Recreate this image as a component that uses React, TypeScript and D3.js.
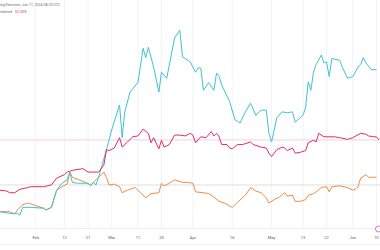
import React from "react";
import * as d3 from "d3";

const W = 380;
const H = 250;

const cyanDates = ["2024-01-18","2024-01-22","2024-01-25","2024-01-26","2024-01-27","2024-01-30","2024-02-04","2024-02-05","2024-02-07","2024-02-09","2024-02-11","2024-02-13","2024-02-14","2024-02-15","2024-02-17","2024-02-21","2024-02-22","2024-02-23","2024-02-24","2024-02-25","2024-02-28","2024-03-01","2024-03-04","2024-03-05","2024-03-06","2024-03-08","2024-03-11","2024-03-13","2024-03-14","2024-03-15","2024-03-17","2024-03-19","2024-03-20","2024-03-22","2024-03-25","2024-03-27","2024-03-28","2024-03-31","2024-04-02","2024-04-03","2024-04-04","2024-04-05","2024-04-07","2024-04-09","2024-04-10","2024-04-11","2024-04-12","2024-04-15","2024-04-17","2024-04-19","2024-04-21","2024-04-23","2024-04-25","2024-04-27","2024-04-29","2024-04-30","2024-05-01","2024-05-03","2024-05-05","2024-05-07","2024-05-09","2024-05-10","2024-05-13","2024-05-14","2024-05-15","2024-05-16","2024-05-17","2024-05-18","2024-05-20","2024-05-21","2024-05-22","2024-05-23","2024-05-24","2024-05-27","2024-05-28","2024-05-30","2024-06-01","2024-06-03","2024-06-04","2024-06-05","2024-06-06","2024-06-08","2024-06-10"];
const cyanValues = [-31,-33,-33,-35,-26,-26,-27,-29,-26,-6,2,6,15,3,2,2,-1,3,0,9,41,64,93,55,85,108,119,159,148,160,137,108,131,124,171,180,149,143,131,136,136,110,119,110,130,126,116,97,76,72,85,95,81,87,87,60,50,78,85,84,85,73,81,90,120,110,131,140,151,142,143,126,147,145,137,124,126,137,140,148,142,134,134];

const redDates = ["2024-01-18","2024-01-21","2024-01-22","2024-01-24","2024-01-26","2024-01-29","2024-01-30","2024-02-04","2024-02-07","2024-02-09","2024-02-12","2024-02-13","2024-02-15","2024-02-19","2024-02-21","2024-02-25","2024-02-27","2024-02-28","2024-02-29","2024-03-02","2024-03-04","2024-03-05","2024-03-07","2024-03-09","2024-03-11","2024-03-13","2024-03-15","2024-03-16","2024-03-17","2024-03-19","2024-03-20","2024-03-21","2024-03-23","2024-03-25","2024-03-27","2024-03-29","2024-03-31","2024-04-01","2024-04-02","2024-04-04","2024-04-06","2024-04-08","2024-04-09","2024-04-10","2024-04-11","2024-04-12","2024-04-14","2024-04-15","2024-04-16","2024-04-18","2024-04-20","2024-04-23","2024-04-24","2024-04-27","2024-04-29","2024-04-30","2024-05-01","2024-05-03","2024-05-05","2024-05-06","2024-05-07","2024-05-09","2024-05-10","2024-05-12","2024-05-14","2024-05-15","2024-05-17","2024-05-18","2024-05-19","2024-05-21","2024-05-23","2024-05-25","2024-05-27","2024-05-30","2024-06-01","2024-06-04","2024-06-06","2024-06-07","2024-06-09","2024-06-10","2024-06-11"];
const redValues = [-6,-7,-9,-9,-5,-3,-2,-2,0,8,12,15,17,19,15,15,23,41,40,43,55,44,50,56,57,65,60,49,55,42,52,44,47,58,58,57,60,58,49,56,55,62,57,60,56,47,47,43,42,47,47,50,47,44,43,37,33,41,44,43,40,43,37,38,40,49,52,50,60,56,56,56,55,53,55,60,59,57,56,56,52.33];

const orangeDates = ["2024-01-18","2024-01-22","2024-01-24","2024-01-25","2024-01-27","2024-01-29","2024-01-31","2024-02-04","2024-02-05","2024-02-07","2024-02-09","2024-02-11","2024-02-13","2024-02-14","2024-02-15","2024-02-20","2024-02-22","2024-02-24","2024-02-25","2024-02-27","2024-02-28","2024-02-29","2024-03-02","2024-03-04","2024-03-05","2024-03-07","2024-03-10","2024-03-12","2024-03-14","2024-03-16","2024-03-19","2024-03-20","2024-03-21","2024-03-23","2024-03-25","2024-03-28","2024-03-30","2024-04-01","2024-04-02","2024-04-05","2024-04-07","2024-04-09","2024-04-11","2024-04-13","2024-04-16","2024-04-18","2024-04-21","2024-04-23","2024-04-25","2024-04-27","2024-04-29","2024-04-30","2024-05-02","2024-05-04","2024-05-06","2024-05-07","2024-05-09","2024-05-10","2024-05-12","2024-05-14","2024-05-15","2024-05-17","2024-05-18","2024-05-20","2024-05-22","2024-05-23","2024-05-24","2024-05-27","2024-05-30","2024-06-01","2024-06-02","2024-06-03","2024-06-04","2024-06-06","2024-06-07","2024-06-09","2024-06-10"];
const orangeValues = [-31,-31,-34,-29,-23,-21,-23,-27,-29,-26,-6,-2,1,15,9,3,0,6,9,15,9,0,1,-2,-9,-6,-3,-9,-15,-10,-9,2,-1,2,6,3,3,2,-8,-9,-10,-14,-19,-21,-26,-20,-12,-3,-7,-9,-15,-21,-17,-14,-9,-13,-12,-19,-19,-17,-12,-10,-8,-3,-2,-8,-2,-1,-3,-6,-5,-2,8,12,9,9,9];

const tickDates = ["2024-02-01","2024-02-12","2024-02-21","2024-03-01","2024-03-11","2024-03-20","2024-04-01","2024-04-16","2024-05-01","2024-05-13","2024-05-22","2024-06-01","2024-06-10"];
const tickLabels = ["Feb","12","21","Mar","11","20","Apr","16","May","13","22","Jun","10"];

const domainDates = ["2024-01-18","2024-06-11"];
const yDomain = [-50, 215];
const lastCombined = 52.33;
const baseline = 0;

const parse = d3.timeParse("%Y-%m-%d");

export default function App() {
  const plotBottom = 228;
  const x = d3
    .scaleTime()
    .domain(domainDates.map((d) => parse(d) as Date))
    .range([-1, 379]);
  const y = d3.scaleLinear().domain(yDomain).range([plotBottom, 0]);

  const line = d3
    .line<[Date, number]>()
    .x((d) => x(d[0]))
    .y((d) => y(d[1]));

  const mk = (ds: string[], vs: number[]) =>
    ds.map((d, i) => [parse(d) as Date, vs[i]] as [Date, number]);

  const series = [
    { data: mk(orangeDates, orangeValues), color: "#ef8d42" },
    { data: mk(cyanDates, cyanValues), color: "#40c2d5" },
    { data: mk(redDates, redValues), color: "#df2d65" },
  ];

  const font = "Roboto, 'Liberation Sans', sans-serif";

  return (
    <div style={{ position: "fixed", left: 0, top: 0, width: W, height: H, background: "#fff" }}>
      <svg width={W} height={H} style={{ display: "block" }} fontFamily={font}>
        <rect x={0} y={0} width={W} height={H} fill="#ffffff" />
        {tickDates.map((d, i) => (
          <line
            key={"g" + i}
            x1={x(parse(d) as Date)}
            x2={x(parse(d) as Date)}
            y1={0}
            y2={plotBottom}
            stroke="#eef0f3"
            strokeWidth={0.8}
          />
        ))}
        <line x1={0} x2={W} y1={plotBottom + 0.5} y2={plotBottom + 0.5} stroke="#e8e8e8" strokeWidth={0.8} />
        <line x1={0} x2={W} y1={244.5} y2={244.5} stroke="#f0f0f0" strokeWidth={0.8} />
        <line x1={0} x2={W} y1={y(baseline)} y2={y(baseline)} stroke="#d6d6d6" strokeWidth={0.8} />
        <line x1={0} x2={W} y1={y(lastCombined)} y2={y(lastCombined)} stroke="#f3c3d2" strokeWidth={0.8} />
        {series.map((s, i) => (
          <path
            key={"s" + i}
            d={line(s.data) || ""}
            fill="none"
            stroke={s.color}
            strokeWidth={1}
            strokeLinejoin="round"
          />
        ))}
        {tickDates.map((d, i) => (
          <text
            key={"t" + i}
            x={x(parse(d) as Date)}
            y={239}
            fontSize={4}
            fill="#5a5a5a"
            textAnchor="middle"
          >
            {tickLabels[i]}
          </text>
        ))}
        <text x={0} y={5.5} fontSize={3.6} fill="#6a6a6a">
          ingView.com, Jun 11, 2024 08:25 UTC
        </text>
        <text x={0} y={12.5} fontSize={3.6} fill="#6a6a6a">
          mbined
          <tspan dx={3} fill="#e0306a">{lastCombined.toFixed(2)}%</tspan>
        </text>
        <circle cx={378.5} cy={229} r={3} fill="#ffffff" stroke="#c24bc6" strokeWidth={0.8} />
      </svg>
    </div>
  );
}
